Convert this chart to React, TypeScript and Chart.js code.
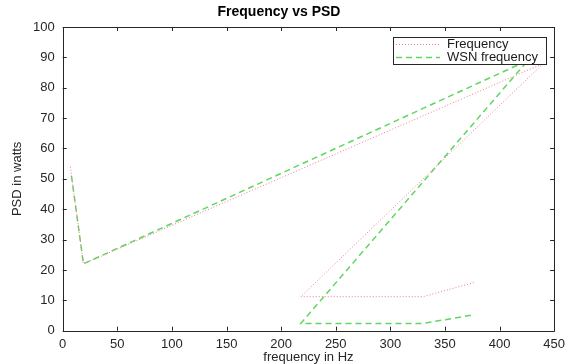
import React, { useEffect, useRef } from "react";
import { Chart, registerables } from "chart.js";

Chart.register(...registerables);

const chartTitle = "Frequency vs PSD";
const xAxisLabel = "frequency in Hz";
const yAxisLabel = "PSD in watts";
const xTicks = [0, 50, 100, 150, 200, 250, 300, 350, 400, 450];
const yTicks = [0, 10, 20, 30, 40, 50, 60, 70, 80, 90, 100];

const freqLabel = "Frequency";
const freqX = [7, 19, 440, 218, 330, 378];
const freqY = [54, 22, 88, 11.2, 11.2, 16];

const wsnLabel = "WSN frequency";
const wsnX = [8, 19, 426, 218, 330, 376];
const wsnY = [51, 22, 89, 2.4, 2.4, 5.2];

const FONT = "'Liberation Sans', Arial, Helvetica, sans-serif";
const AXIS_COLOR = "#262626";

const boxPlugin = {
  id: "matlabBox",
  afterDatasetsDraw(chart: any) {
    const { ctx, chartArea, scales } = chart;
    const { left, right, top, bottom } = chartArea;
    const tl = 4;
    ctx.save();
    ctx.strokeStyle = AXIS_COLOR;
    ctx.lineWidth = 1;
    ctx.beginPath();
    ctx.rect(Math.round(left) + 0.5, Math.round(top) + 0.5, Math.round(right - left), Math.round(bottom - top));
    ctx.stroke();
    ctx.beginPath();
    scales.x.ticks.forEach((t: any) => {
      const px = Math.round(scales.x.getPixelForValue(t.value)) + 0.5;
      ctx.moveTo(px, bottom);
      ctx.lineTo(px, bottom - tl);
      ctx.moveTo(px, top);
      ctx.lineTo(px, top + tl);
    });
    scales.y.ticks.forEach((t: any) => {
      const py = Math.round(scales.y.getPixelForValue(t.value)) + 0.5;
      ctx.moveTo(left, py);
      ctx.lineTo(left + tl, py);
      ctx.moveTo(right, py);
      ctx.lineTo(right - tl, py);
    });
    ctx.stroke();

    // legend box
    const lx = 393, ly = 37, lw = 153, lh = 27;
    ctx.fillStyle = "#ffffff";
    ctx.fillRect(lx, ly, lw, lh);
    ctx.strokeStyle = AXIS_COLOR;
    ctx.strokeRect(lx + 0.5, ly + 0.5, lw, lh);
    ctx.font = `13px ${FONT}`;
    ctx.textBaseline = "middle";
    ctx.textAlign = "left";
    chart.data.datasets.forEach((ds: any, i: number) => {
      const yy = ly + 7.5 + i * 13;
      ctx.save();
      ctx.strokeStyle = ds.borderColor;
      ctx.lineWidth = ds.borderWidth;
      ctx.setLineDash(ds.borderDash);
      ctx.beginPath();
      ctx.moveTo(lx + 3, yy);
      ctx.lineTo(lx + 47, yy);
      ctx.stroke();
      ctx.restore();
      ctx.fillStyle = "#1a1a1a";
      ctx.fillText(ds.label, lx + 54, yy);
    });
    ctx.restore();
  },
};

export default function App() {
  const ref = useRef<HTMLCanvasElement>(null);
  useEffect(() => {
    if (!ref.current) return;
    const chart = new Chart(ref.current, {
      type: "scatter",
      data: {
        datasets: [
          {
            label: freqLabel,
            data: freqX.map((x, i) => ({ x, y: freqY[i] })),
            showLine: true,
            borderColor: "rgb(238,120,145)",
            borderWidth: 1,
            borderDash: [1, 2],
            pointRadius: 0,
            fill: false,
          },
          {
            label: wsnLabel,
            data: wsnX.map((x, i) => ({ x, y: wsnY[i] })),
            showLine: true,
            borderColor: "rgb(95,215,95)",
            borderWidth: 1.5,
            borderDash: [6, 4],
            pointRadius: 0,
            fill: false,
          },
        ],
      },
      options: {
        animation: false,
        responsive: false,
        devicePixelRatio: 1,
        layout: { padding: { left: 0, right: 13, top: 0, bottom: 0 } },
        plugins: {
          legend: { display: false },
          tooltip: { enabled: false },
          title: {
            display: true,
            text: chartTitle,
            color: "#000",
            font: { family: FONT, size: 14, weight: "bold", lineHeight: 1.2 },
            padding: { top: 4, bottom: 6.2 },
          },
        },
        scales: {
          x: {
            type: "linear",
            min: 0,
            max: 450,
            afterBuildTicks: (s: any) => {
              s.ticks = xTicks.map((v) => ({ value: v }));
            },
            afterFit: (s: any) => {
              s.height = 33.3;
            },
            grid: { display: false, drawTicks: false },
            border: { display: false },
            ticks: {
              color: AXIS_COLOR,
              font: { family: FONT, size: 13 },
              padding: 6,
              maxRotation: 0,
              autoSkip: false,
            },
            title: {
              display: true,
              text: xAxisLabel,
              color: AXIS_COLOR,
              font: { family: FONT, size: 13 },
              padding: { top: 0, bottom: -1 },
            },
          },
          y: {
            type: "linear",
            min: 0,
            max: 100,
            afterBuildTicks: (s: any) => {
              s.ticks = yTicks.map((v) => ({ value: v }));
            },
            afterFit: (s: any) => {
              s.width = 62.7;
            },
            grid: { display: false, drawTicks: false },
            border: { display: false },
            ticks: {
              color: AXIS_COLOR,
              font: { family: FONT, size: 13 },
              padding: 8,
              autoSkip: false,
            },
            title: {
              display: true,
              text: yAxisLabel,
              color: AXIS_COLOR,
              font: { family: FONT, size: 13 },
              padding: { top: 10, bottom: 0 },
            },
          },
        },
      },
      plugins: [boxPlugin],
    } as any);
    return () => chart.destroy();
  }, []);
  return (
    <div style={{ position: "absolute", left: 0, top: 0, width: 571, height: 364, background: "#fff" }}>
      <canvas ref={ref} width={571} height={364} />
    </div>
  );
}
